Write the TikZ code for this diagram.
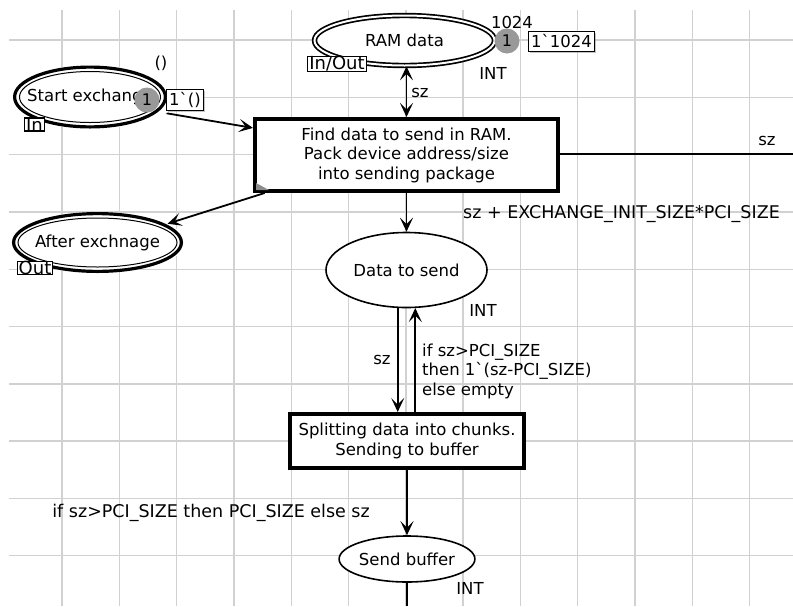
\documentclass[tikz,border=0pt]{standalone}
\usepackage{fontspec}
\setmainfont{DejaVu Sans}
\usetikzlibrary{shapes.geometric,arrows.meta,calc,shadows}
\pgfdeclarelayer{gridlayer}
\pgfdeclarelayer{arclayer}
\pgfsetlayers{gridlayer,arclayer,main}

\begin{document}
\begin{tikzpicture}[x=1pt,y=-1pt,
  every node/.style={font=\fontsize{16.5}{19.5}\selectfont,inner sep=0pt},
  widelbl/.style={font=\fontsize{17.5}{19.5}\selectfont},
  gridline/.style={draw=black!18,line width=1.4pt},
  place/.style={ellipse,draw,line width=1.6pt,fill=white,inner sep=0pt},
  portplace/.style={ellipse,fill=white,inner sep=0pt},
  trans/.style={rectangle,draw,line width=4pt,fill=white,align=center,inner sep=0pt},
  >={Stealth[length=14pt,width=13pt,inset=6.5pt]},
  arc/.style={line width=1.8pt,->},
  plainarc/.style={line width=1.8pt},
  tag/.style={draw,line width=1.2pt,fill=white,inner xsep=1.5pt,inner ysep=0pt,
    font=\fontsize{18}{18}\selectfont},
  token/.style={circle,fill=black!40,minimum size=25pt,font=\fontsize{16}{16}\selectfont},
  markbox/.style={draw,line width=1pt,fill=white,inner xsep=3pt,inner ysep=3pt,
    drop shadow={shadow xshift=1.5pt,shadow yshift=-1.5pt,opacity=0.45}},
  lbl/.style={align=left}
]
\useasboundingbox (0,0) rectangle (793,606);

% white page and background grid
\begin{pgfonlayer}{gridlayer}
  \fill[white] (0,0) rectangle (793,606);
  \foreach \k in {0,...,12}
    \draw[gridline] ({62+57.3*\k},10) -- ({62+57.3*\k},606);
  \foreach \k in {0,...,9}
    \draw[gridline] (9,{40+57.3*\k}) -- (793,{40+57.3*\k});
\end{pgfonlayer}

% places
\node[place,double=white,double distance=2pt,line width=1.7pt,
      minimum width=180pt,minimum height=50pt] (ram) at (404.5,40.5) {RAM data};

\node[portplace,minimum width=154pt,minimum height=63pt] (start) at (90,97) {Start exchange};
\draw[line width=3.2pt] (start.center) ellipse [x radius=75.4, y radius=29.9];
\draw[line width=1pt] (start.center) ellipse [x radius=70.5, y radius=25.5];

\node[portplace,minimum width=171pt,minimum height=61pt] (after) at (97.5,242.5) {After exchnage};
\draw[line width=3.2pt] (after.center) ellipse [x radius=83.9, y radius=28.9];
\draw[line width=1pt] (after.center) ellipse [x radius=79.5, y radius=24.5];

\node[place,minimum width=161pt,minimum height=75pt] (dts) at (406.5,270) {Data to send};
\node[place,minimum width=124pt,minimum height=46pt] (sb) at (407,559) {Send buffer};

% transitions
\node[trans,minimum width=303pt,minimum height=72pt] (find) at (406.5,155)
  {Find data to send in RAM.\\Pack device address/size\\into sending package};
\fill[black!45] ($(find.south west)+(3,-3)$) -- ($(find.south west)+(3,-10)$)
  -- ($(find.south west)+(16,-3)$) -- cycle;
\node[trans,minimum width=234pt,minimum height=54pt] (split) at (407,441)
  {Splitting data into chunks.\\Sending to buffer};

% port tags
\node[tag] (ramtag) at (337,64) {In/Out};
\node[tag] (starttag) at (34.5,124.5) {In};
\node[tag] (aftertag) at (35,268) {Out};

% tokens and markings
\node[token] (starttok) at (147,100) {1};
\node[markbox] (startmark) at (185,100) {1\textasciigrave()};
\node (startinit) at (161,63) {()};
\node[token] (ramtok) at (507,41) {1};
\node[markbox] (rammark) at (561.5,41.5) {1\textasciigrave1024};
\node (raminit) at (512,22) {1024};

% colour sets
\node (ramtype) at (493,73) {INT};
\node (dtstype) at (483,310) {INT};
\node (sbtype) at (470,588) {INT};

% arcs
\coordinate (rightend) at (793,154);
\coordinate (bottomend) at (407,606);
\begin{pgfonlayer}{arclayer}
  \draw[arc,<->] (ram.south -| find.north) -- (find.north);
  \draw[arc] (start.-12) -- (find.170);
  \draw[arc] (find.195) -- (after.15);
  \draw[plainarc] (find.east |- rightend) -- (rightend);
  \draw[arc] (find.south) -- (dts.north);
  \draw[arc] (dts.257) -- (dts.257 |- split.north);
  \draw[arc] (split.north -| dts.283) -- (dts.283);
  \draw[arc] (split.south) -- (sb.north);
  \draw[plainarc] (sb.south) -- (bottomend);
\end{pgfonlayer}

% arc inscriptions
\node (l1) at (420,93) {sz};
\node (l2) at (767,141) {sz};
\node[widelbl,anchor=west] (l3) at (463,214) {sz + EXCHANGE\_INIT\_SIZE*PCI\_SIZE};
\node (l4) at (382,360) {sz};
\node[lbl,anchor=west] (l5) at (422,371)
  {if sz>PCI\_SIZE\\then 1\textasciigrave(sz-PCI\_SIZE)\\else empty};
\node[widelbl,anchor=east] (l6) at (370,513) {if sz>PCI\_SIZE then PCI\_SIZE else sz};
\end{tikzpicture}
\end{document}
